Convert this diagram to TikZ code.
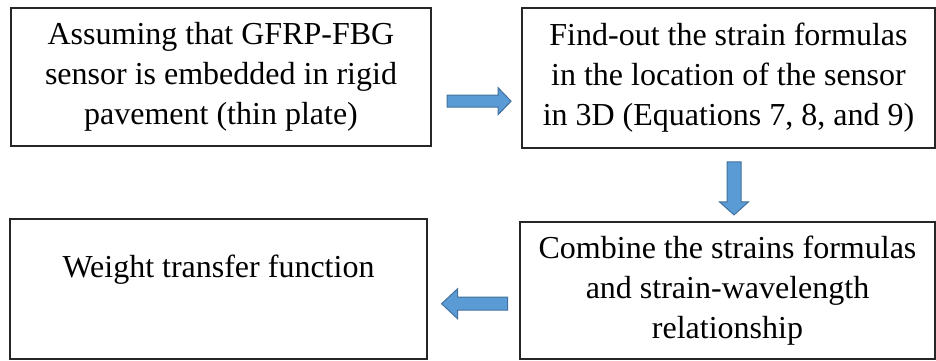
\documentclass[tikz,border=0pt]{standalone}
\usepackage{fontspec}
\setmainfont{LiberationSerif-Regular.ttf}
\usetikzlibrary{calc}
\definecolor{arrowfill}{HTML}{5B9BD5}
\definecolor{arrowline}{HTML}{41719C}
\definecolor{boxline}{HTML}{262626}
\tikzset{
  stepbox/.style={draw=boxline, line width=0.9pt, inner sep=0pt, align=center,
    font=\fontsize{16}{20}\selectfont},
  plaintext/.style={inner sep=0pt, align=center, font=\fontsize{16}{20}\selectfont},
  barrow/.style={fill=arrowfill, draw=arrowline, line width=0.5pt, line join=miter}
}
\begin{document}
\begin{tikzpicture}[x=0.5pt,y=-0.5pt]
\useasboundingbox (0,0) rectangle (936,360);
\node[stepbox, minimum width=210pt, minimum height=69pt] (b1) at (221,77)
  {Assuming that GFRP-FBG\\sensor is embedded in rigid\\pavement (thin plate)};
\node[stepbox, minimum width=206.5pt, minimum height=70pt] (b2) at (728.5,78)
  {Find-out the strain formulas\\in the location of the sensor\\in 3D (Equations 7, 8, and 9)};
\node[stepbox, minimum width=207.5pt, minimum height=68.5pt] (b4) at (727.5,290.5)
  {Combine the strains formulas\\and strain-wavelength\\relationship};
\node[stepbox, minimum width=208.5pt, minimum height=70pt] (b3) at (218.5,289) {};
\node[plaintext] (b3t) at ($(b3.center)+(0,-19)$) {Weight transfer function};
% right arrow b1 -> b2
\coordinate (ra) at ($(b1.east)!0.17!(b2.west)+(0,24)$);
\draw[barrow] (ra) ++(0,-6) -- ++(51,0) -- ++(0,-7.5) -- ++(13,13.5) -- ++(-13,13.5)
  -- ++(0,-7.5) -- ++(-51,0) -- cycle;
% down arrow b2 -> b4
\coordinate (da) at ($(b2.south)+(5.5,13)$);
\draw[barrow] (da) ++(-7,0) -- ++(0,40) -- ++(-7.5,0) -- ++(14.5,13) -- ++(14.5,-13)
  -- ++(-7.5,0) -- ++(0,-40) -- cycle;
% left arrow b4 -> b3
\coordinate (la) at ($(b3.east)!0.15!(b4.west)+(0,14.5)$);
\draw[barrow] (la) -- ++(16,-15) -- ++(0,8.5) -- ++(50,0) -- ++(0,13) -- ++(-50,0)
  -- ++(0,8.5) -- cycle;
\end{tikzpicture}
\end{document}
